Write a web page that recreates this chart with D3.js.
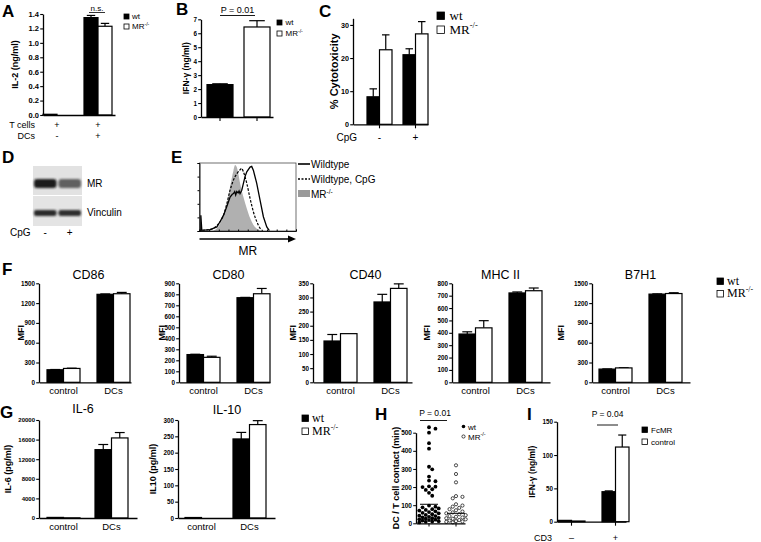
<!DOCTYPE html>
<html><head><meta charset="utf-8">
<script src="https://cdn.jsdelivr.net/npm/d3@7"></script>
<style>body{margin:0;background:#fff}svg{display:block}</style>
</head><body><script>
// ================= DATA =================
// A
const aGroups = ["T only", "T + DC"];
const aTcells = ["+", "+"];
const aDCs = ["-", "+"];
const aWt = [0.01, 1.35];
const aWtErr = [0, 0.03];
const aMr = [0.0, 1.23];
const aMrErr = [0, 0.04];
const aTicks = [0, 0.2, 0.4, 0.6, 0.8, 1.0, 1.2, 1.4];
// B
const bCats = ["wt", "MR-/-"];
const bVals = [2.32, 6.45];
const bErr = [0.06, 0.45];
const bTicks = [0, 1, 2, 3, 4, 5, 6, 7];
// C
const cCats = ["-", "+"];
const cWt = [8.3, 21.0];
const cWtErr = [2.4, 1.8];
const cMr = [22.5, 27.3];
const cMrErr = [4.5, 3.7];
const cTicks = [0, 10, 20, 30];
// D (band darkness 0..1)
const dLanes = ["-", "+"];
const dMR = [0.95, 0.62];
const dVinc = [0.88, 0.86];
// E (histogram channel / count %)
const eKoCh = [14, 18, 21.4, 24.8, 28.3, 31.7, 35.2, 36.9, 38.6, 40.3, 42.1, 45.5, 49, 52.4, 55.9, 61, 66];
const eKoCt = [0, 4, 11, 23, 40, 65, 89, 97, 94, 84, 70, 50, 33, 19, 9, 2, 0];
const eCpgCh = [3, 8, 14.5, 21.4, 24.8, 28.3, 31.7, 35.2, 38.6, 42.1, 43.8, 45.5, 49, 52.4, 55.9, 59.3, 62.8, 65.5];
const eCpgCt = [1, 1.5, 4, 14, 23, 40, 60, 75, 84, 90, 92, 87, 70, 48, 28, 14, 4, 0.5];
const eWtCh = [1.4, 1.4, 2.4, 11, 18, 21.4, 24.8, 28.3, 31.7, 34, 35.2, 36.5, 37.5, 38.6, 40, 41, 42, 43.8, 45.5, 47.2, 49, 52.4, 54.1, 55.9, 59.3, 62.8, 66.2, 69.7, 72.4];
const eWtCt = [0, 23, 1, 2, 6, 14, 23, 36, 50, 54, 55, 58, 53, 58, 56, 59, 55, 60, 70, 80, 87, 94, 95, 89, 70, 45, 21, 6, 0.5];
// F
const fCats = ["control", "DCs"];
const fTitles = ["CD86", "CD80", "CD40", "MHC II", "B7H1"];
const cd86Wt = [190, 1333], cd86WtErr = [4, 6], cd86Mr = [210, 1342], cd86MrErr = [4, 20];
const cd80Wt = [252, 769], cd80WtErr = [3, 3], cd80Mr = [227, 805], cd80MrErr = [10, 48];
const cd40Wt = [146, 284], cd40WtErr = [23, 27], cd40Mr = [172, 332], cd40MrErr = [0, 16];
const mhcWt = [390, 722], mhcWtErr = [18, 8], mhcMr = [440, 740], mhcMrErr = [58, 22];
const b7h1Wt = [200, 1336], b7h1WtErr = [3, 4], b7h1Mr = [218, 1345], b7h1MrErr = [3, 12];
const cd86Ticks = [0, 300, 600, 900, 1200, 1500];
const cd80Ticks = [0, 100, 200, 300, 400, 500, 600, 700, 800, 900];
const cd40Ticks = [0, 50, 100, 150, 200, 250, 300, 350];
const mhcTicks = [0, 100, 200, 300, 400, 500, 600, 700, 800];
const b7h1Ticks = [0, 300, 600, 900, 1200, 1500];
// G
const gCats = ["control", "DCs"];
const il6Wt = [120, 13950], il6WtErr = [0, 1050], il6Mr = [30, 16340], il6MrErr = [0, 1100];
const il6Ticks = [0, 4000, 8000, 12000, 16000, 20000];
const il10Wt = [1.5, 242], il10WtErr = [0, 20], il10Mr = [0, 286], il10MrErr = [0, 12];
const il10Ticks = [0, 50, 100, 150, 200, 250, 300];
// H
const hGroups = ["wt", "MR-/-"];
const hWt = [530, 522, 500, 442, 412, 312, 298, 258, 236, 232, 204, 202, 200, 188, 184, 168, 152,
  98, 92, 88, 82, 78, 74, 70, 66, 62, 58, 55, 50, 46, 42, 40, 36, 33, 30, 28, 25, 22, 20, 18, 15, 12, 10, 8, 5];
const hMr = [320, 272, 226, 150, 146, 138, 105, 98, 92, 85, 78, 72, 65, 60, 55, 50, 45, 40, 36, 32, 28, 25, 22, 18, 15, 12, 10, 8, 5];
const hMeans = [105, 55];
const hTicks = [0, 100, 200, 300, 400, 500];
// I
const iCats = ["\u2013", "+"];
const iFcmr = [2, 45], iFcmrErr = [0, 1.2];
const iCtrl = [1, 112], iCtrlErr = [0, 18];
const iTicks = [0, 50, 100, 150];

// ================= DRAWING =================
const SANS = '"Liberation Sans", Arial, Helvetica, sans-serif';
const SERIF = '"Liberation Serif", "Times New Roman", serif';
const svg = d3.select("body").append("svg").attr("width", 761).attr("height", 542)
  .style("font-family", SANS);

function txt(x, y, s, size, opts = {}) {
  const t = svg.append("text").attr("x", x).attr("y", y).attr("font-size", size).text(s);
  if (opts.anchor) t.attr("text-anchor", opts.anchor);
  if (opts.weight) t.attr("font-weight", opts.weight);
  if (opts.family) t.attr("font-family", opts.family);
  if (opts.rotate) t.attr("transform", `rotate(-90,${x},${y})`);
  return t;
}

function barPanel(o) {
  const g = svg.append("g");
  const y = d3.scaleLinear().domain([0, o.yMax]).range([o.yb, o.yt]);
  const nS = o.series.length, gw = nS * o.barW;
  const x = d3.scaleBand().domain(o.cats)
    .range([o.barStart, o.barStart + (o.cats.length - 1) * o.step + gw])
    .paddingInner((o.step - gw) / o.step).paddingOuter(0);
  const xs = d3.scaleBand().domain(d3.range(nS)).range([0, x.bandwidth()]);
  const bw = xs.bandwidth();
  o.series.forEach((s, si) => {
    const rows = o.cats.map((c, i) => ({ c, i, v: s.vals[i], e: s.errs ? s.errs[i] : 0 }));
    const cx = d => x(d.c) + xs(si) + bw / 2;
    const er = rows.filter(d => d.e > 0);
    const eg = g.append("g").attr("stroke", "#000").attr("stroke-width", 1.2);
    eg.selectAll("line.ev").data(er).join("line").attr("class", "ev")
      .attr("x1", cx).attr("x2", cx).attr("y1", d => y(d.v)).attr("y2", d => y(d.v + d.e));
    eg.selectAll("line.ec").data(er).join("line").attr("class", "ec")
      .attr("x1", d => cx(d) - bw * 0.3).attr("x2", d => cx(d) + bw * 0.3)
      .attr("y1", d => y(d.v + d.e)).attr("y2", d => y(d.v + d.e));
    g.append("g").selectAll("rect").data(rows).join("rect")
      .attr("x", d => x(d.c) + xs(si)).attr("y", d => y(d.v))
      .attr("width", bw).attr("height", d => Math.max(0, o.yb - y(d.v)))
      .attr("fill", d => Array.isArray(s.fill) ? s.fill[d.i] : s.fill)
      .attr("stroke", "#000").attr("stroke-width", 1.2);
  });
  const ya = g.append("g").attr("transform", `translate(${o.ax},0)`)
    .call(d3.axisLeft(y).tickValues(o.ticks).tickSize(2.8).tickSizeOuter(0).tickPadding(1.2)
      .tickFormat(o.fmt || d3.format("d")));
  ya.select(".domain").attr("stroke-width", 1.3);
  ya.selectAll(".tick line").attr("stroke-width", 1.1);
  ya.selectAll("text").attr("font-size", o.tickFs || 6.3).attr("font-weight", "bold").attr("font-family", SANS);
  const xa = g.append("g").attr("transform", `translate(0,${o.yb})`)
    .call(d3.axisBottom(d3.scaleLinear().range([o.ax, o.xEnd])).ticks(0).tickSizeOuter(0));
  xa.select(".domain").attr("stroke-width", 1.3);
  if (o.catTicks) {
    g.append("g").selectAll("line").data(o.cats).join("line")
      .attr("x1", c => x(c) + x.bandwidth() / 2).attr("x2", c => x(c) + x.bandwidth() / 2)
      .attr("y1", o.yb).attr("y2", o.yb + 4).attr("stroke", "#000").attr("stroke-width", 1.1);
  }
  if (o.catLabels) {
    o.catLabels.forEach(r => {
      g.append("g").selectAll("text").data(o.cats).join("text")
        .attr("x", c => x(c) + x.bandwidth() / 2).attr("y", r.y)
        .attr("text-anchor", "middle").attr("font-size", r.size || 9)
        .text((c, i) => r.labels[i]);
      if (r.title) txt(r.titleX, r.y, r.title, r.size || 9, { anchor: "end" });
    });
  }
  if (o.yLabel) {
    txt(o.ylx, (o.yb + o.yt) / 2, o.yLabel, o.ylSize || 9, { anchor: "middle", weight: "bold", rotate: true });
  }
  return { g, x, y, bw };
}

function legend(x, y, items, o) {
  items.forEach((it, i) => {
    const yy = y + i * o.gap;
    svg.append("rect").attr("x", x).attr("y", yy).attr("width", o.sq).attr("height", o.sq)
      .attr("fill", it.fill).attr("stroke", "#000").attr("stroke-width", 0.8);
    const t = svg.append("text").attr("x", x + o.sq + o.pad).attr("y", yy + o.sq)
      .attr("font-size", o.size).attr("font-family", o.family || SANS);
    t.append("tspan").text(it.label);
    if (it.sup) t.append("tspan").attr("dy", -o.size * 0.4).attr("font-size", o.size * 0.65).text(it.sup);
  });
}

// Panel letters
[["A", 2, 17], ["B", 176, 15], ["C", 319, 17], ["D", 2, 163], ["E", 171, 163],
 ["F", 2, 275], ["G", 0, 418], ["H", 375, 420], ["I", 527, 420]]
  .forEach(([s, x, y]) => txt(x, y, s, 17, { weight: "bold" }));

// ---------- A ----------
barPanel({
  cats: aGroups, series: [{ vals: aWt, errs: aWtErr, fill: "#000" }, { vals: aMr, errs: aMrErr, fill: "#fff" }],
  ax: 43, xEnd: 115, yb: 115, yt: 14, yMax: 1.4, ticks: aTicks, fmt: d3.format(".1f"), tickFs: 7.5,
  barStart: 43, barW: 14, step: 41, yLabel: "IL-2 (ng/ml)", ylx: 18, ylSize: 9,
  catLabels: [{ labels: aTcells, y: 128, title: "T cells", titleX: 35 }, { labels: aDCs, y: 139, title: "DCs", titleX: 35 }]
});
txt(97, 10.5, "n.s.", 8, { anchor: "middle" });
svg.append("line").attr("x1", 89).attr("x2", 105).attr("y1", 12.5).attr("y2", 12.5).attr("stroke", "#000").attr("stroke-width", 0.8);
legend(124, 14, [{ fill: "#000", label: "wt" }, { fill: "#fff", label: "MR", sup: "-/-" }], { gap: 10, sq: 5, pad: 3, size: 8 });

// ---------- B ----------
barPanel({
  cats: bCats, series: [{ vals: bVals, errs: bErr, fill: ["#000", "#fff"] }],
  ax: 201, xEnd: 273, yb: 117, yt: 19.3, yMax: 7, ticks: bTicks,
  barStart: 207, barW: 26, step: 37, catTicks: true, yLabel: "IFN-\u03b3 (ng/ml)", ylx: 189, ylSize: 8.5
});
txt(237.5, 12.5, "P = 0.01", 9, { anchor: "middle" });
svg.append("line").attr("x1", 220).attr("x2", 255).attr("y1", 15.5).attr("y2", 15.5).attr("stroke", "#000").attr("stroke-width", 0.9);
legend(277, 20, [{ fill: "#000", label: "wt" }, { fill: "#fff", label: "MR", sup: "-/-" }], { gap: 11, sq: 5, pad: 3.5, size: 8 });

// ---------- C ----------
barPanel({
  cats: cCats, series: [{ vals: cWt, errs: cWtErr, fill: "#000" }, { vals: cMr, errs: cMrErr, fill: "#fff" }],
  ax: 353, xEnd: 428, yb: 124.3, yt: 18.3, yMax: 32, ticks: cTicks, tickFs: 7.2,
  barStart: 367, barW: 12.5, step: 36, catTicks: true, yLabel: "% Cytotoxicity", ylx: 338, ylSize: 11,
  catLabels: [{ labels: cCats, y: 141, title: "CpG", titleX: 357, size: 10 }]
});
legend(437, 12, [{ fill: "#000", label: "wt" }, { fill: "#fff", label: "MR", sup: "-/-" }], { gap: 14, sq: 7.5, pad: 5, size: 13, family: SERIF });

// ---------- D (blot) ----------
const defs = svg.append("defs");
defs.append("filter").attr("id", "blur").attr("x", "-30%").attr("y", "-80%").attr("width", "160%").attr("height", "260%")
  .append("feGaussianBlur").attr("stdDeviation", 1.3);
svg.append("rect").attr("x", 33).attr("y", 166).attr("width", 49).attr("height", 29).attr("fill", "#e2e2e2");
svg.append("rect").attr("x", 33).attr("y", 196).attr("width", 49).attr("height", 30).attr("fill", "#e4e4e4");
const dx = d3.scaleBand().domain(dLanes).range([34, 81]).paddingInner(0.08);
const dShade = d3.scaleLinear().domain([0, 1]).range(["#e2e2e2", "#111"]);
svg.append("g").attr("filter", "url(#blur)").selectAll("rect").data(dLanes).join("rect")
  .attr("x", l => dx(l)).attr("y", 179).attr("width", dx.bandwidth()).attr("height", 9)
  .attr("rx", 3).attr("fill", (l, i) => dShade(dMR[i]));
svg.append("g").attr("filter", "url(#blur)").selectAll("rect").data(dLanes).join("rect")
  .attr("x", l => dx(l)).attr("y", 210).attr("width", dx.bandwidth()).attr("height", 6)
  .attr("rx", 2).attr("fill", (l, i) => dShade(dVinc[i]));
txt(87, 187, "MR", 10);
txt(87, 216, "Vinculin", 10);
txt(10, 236, "CpG", 10);
svg.append("g").selectAll("text").data(dLanes).join("text")
  .attr("x", l => dx(l) + dx.bandwidth() / 2).attr("y", 236).attr("text-anchor", "middle")
  .attr("font-size", 10).text(l => l);

// ---------- E (histogram) ----------
const ex = d3.scaleLinear().domain([0, 100]).range([199.5, 296]);
const ey = d3.scaleLinear().domain([0, 100]).range([231, 163]);
svg.append("path").datum(d3.zip(eKoCh, eKoCt))
  .attr("d", d3.area().x(d => ex(d[0])).y0(ey(0)).y1(d => ey(d[1])).curve(d3.curveMonotoneX))
  .attr("fill", "#b0b0b0");
svg.append("path").datum(d3.zip(eCpgCh, eCpgCt))
  .attr("d", d3.line().x(d => ex(d[0])).y(d => ey(d[1])).curve(d3.curveMonotoneX))
  .attr("fill", "none").attr("stroke", "#000").attr("stroke-width", 1.2).attr("stroke-dasharray", "2.5,1.5");
svg.append("path").datum(d3.zip(eWtCh, eWtCt))
  .attr("d", d3.line().x(d => ex(d[0])).y(d => ey(d[1])))
  .attr("fill", "none").attr("stroke", "#000").attr("stroke-width", 1.3);
svg.append("rect").attr("x", ex(0)).attr("y", ey(100)).attr("width", ex(100) - ex(0)).attr("height", ey(0) - ey(100))
  .attr("fill", "none").attr("stroke", "#333").attr("stroke-width", 0.7);
svg.append("g").attr("transform", `translate(${ex(0)},0)`)
  .call(d3.axisLeft(ey).ticks(5).tickSize(2).tickFormat(""))
  .call(s => s.select(".domain").attr("stroke-width", 0.9));
svg.append("g").attr("transform", `translate(0,${ey(0)})`)
  .call(d3.axisBottom(ex).ticks(10).tickSize(-1.5).tickFormat(""))
  .call(s => s.select(".domain").attr("stroke-width", 0.9));
svg.append("line").attr("x1", ex(0)).attr("x2", ex(100) - 6).attr("y1", 239).attr("y2", 239)
  .attr("stroke", "#000").attr("stroke-width", 1.6);
svg.append("path").attr("d", `M${ex(100) - 8},235.5 L${ex(100)},239 L${ex(100) - 8},242.5 Z`).attr("fill", "#000");
txt((ex(0) + ex(100)) / 2, 255, "MR", 12, { anchor: "middle" });
// E legend
svg.append("line").attr("x1", 298).attr("x2", 310).attr("y1", 164).attr("y2", 164).attr("stroke", "#000").attr("stroke-width", 1.6);
svg.append("line").attr("x1", 298).attr("x2", 310).attr("y1", 179).attr("y2", 179).attr("stroke", "#000").attr("stroke-width", 1.3).attr("stroke-dasharray", "2,1.5");
svg.append("rect").attr("x", 298).attr("y", 190).attr("width", 12).attr("height", 7).attr("fill", "#9a9a9a");
txt(311, 167.5, "Wildtype", 10);
txt(311, 182.5, "Wildtype, CpG", 10);
{ const t = txt(311, 197.5, "MR", 10); t.append("tspan").attr("dy", -4).attr("font-size", 6.5).text("-/-"); }

// ---------- F ----------
const fData = [
  [cd86Wt, cd86WtErr, cd86Mr, cd86MrErr, cd86Ticks, 1500],
  [cd80Wt, cd80WtErr, cd80Mr, cd80MrErr, cd80Ticks, 900],
  [cd40Wt, cd40WtErr, cd40Mr, cd40MrErr, cd40Ticks, 350],
  [mhcWt, mhcWtErr, mhcMr, mhcMrErr, mhcTicks, 800],
  [b7h1Wt, b7h1WtErr, b7h1Mr, b7h1MrErr, b7h1Ticks, 1500]
];
const fAx = [39, 179, 313, 452, 592];
const fEnd = [92, 91, 99, 98, 98];
const fStart = [8, 8, 11, 7, 7];
const fMfi = [21, 162, 293, 427, 561];
fData.forEach((d, k) => {
  const p = barPanel({
    cats: fCats, series: [{ vals: d[0], errs: d[1], fill: "#000" }, { vals: d[2], errs: d[3], fill: "#fff" }],
    ax: fAx[k], xEnd: fAx[k] + fEnd[k], yb: 382.3, yt: 283.3, yMax: d[5], ticks: d[4],
    barStart: fAx[k] + fStart[k], barW: 16.5, step: 50, yLabel: "MFI", ylx: fMfi[k] + 3, ylSize: 9,
    catLabels: [{ labels: fCats, y: 394, size: 9.5 }]
  });
  const cx = (p.x(fCats[0]) + p.x(fCats[1]) + p.x.bandwidth()) / 2;
  txt(cx, 279, fTitles[k], 12.5, { anchor: "middle" });
});
legend(717, 278, [{ fill: "#000", label: "wt" }, { fill: "#fff", label: "MR", sup: "-/-" }], { gap: 12.5, sq: 6.5, pad: 3.5, size: 12, family: SERIF });

// ---------- G ----------
{
  barPanel({
    cats: gCats, series: [{ vals: il6Wt, errs: il6WtErr, fill: "#000" }, { vals: il6Mr, errs: il6MrErr, fill: "#fff" }],
    ax: 39, xEnd: 137, yb: 518, yt: 420, yMax: 20000, ticks: il6Ticks, tickFs: 6,
    barStart: 47, barW: 16.5, step: 48, yLabel: "IL-6 (pg/ml)", ylx: 11, ylSize: 9,
    catLabels: [{ labels: gCats, y: 530, size: 9.5 }]
  });
  txt(83, 413, "IL-6", 12.5, { anchor: "middle" });
  barPanel({
    cats: gCats, series: [{ vals: il10Wt, errs: il10WtErr, fill: "#000" }, { vals: il10Mr, errs: il10MrErr, fill: "#fff" }],
    ax: 178, xEnd: 275, yb: 518, yt: 420, yMax: 300, ticks: il10Ticks,
    barStart: 185, barW: 16.5, step: 48, yLabel: "IL10 (pg/ml)", ylx: 156, ylSize: 9,
    catLabels: [{ labels: gCats, y: 530, size: 9.5 }]
  });
  txt(227, 414, "IL-10", 12.5, { anchor: "middle" });
  legend(302, 415, [{ fill: "#000", label: "wt" }, { fill: "#fff", label: "MR", sup: "-/-" }], { gap: 13, sq: 6.5, pad: 3.5, size: 12, family: SERIF });
}

// ---------- H (scatter) ----------
{
  const hy = d3.scaleLinear().domain([0, 500]).range([523.3, 432.7]);
  const hx = d3.scalePoint().domain(hGroups).range([429, 456]);
  const r = 1.9;
  function swarm(vals, cx) {
    const placed = [];
    const stepX = 2 * r * 0.85;
    const cands = [0, 1, -1, 2, -2, 3, -3].map(k => cx + k * stepX);
    vals.slice().sort((a, b) => b - a).forEach(v => {
      const py = hy(v);
      let best = null, bestD = -1;
      for (const px of cands) {
        const md = placed.length ? d3.min(placed, p => Math.hypot(p.x - px, p.y - py)) : Infinity;
        if (md >= 2 * r) { best = px; break; }
        if (md > bestD) { bestD = md; best = px; }
      }
      placed.push({ x: best, y: py, v });
    });
    return placed;
  }
  const gH = svg.append("g");
  gH.selectAll("circle.w").data(swarm(hWt, hx("wt"))).join("circle").attr("class", "w")
    .attr("cx", d => d.x).attr("cy", d => d.y).attr("r", r).attr("fill", "#000");
  gH.selectAll("circle.m").data(swarm(hMr, hx("MR-/-"))).join("circle").attr("class", "m")
    .attr("cx", d => d.x).attr("cy", d => d.y).attr("r", r - 0.3).attr("fill", "#fff").attr("stroke", "#000").attr("stroke-width", 0.7);
  gH.selectAll("line.mean").data(hGroups).join("line").attr("class", "mean")
    .attr("x1", g => hx(g) - 9).attr("x2", g => hx(g) + 9)
    .attr("y1", (g, i) => hy(hMeans[i])).attr("y2", (g, i) => hy(hMeans[i]))
    .attr("stroke", "#000").attr("stroke-width", 1);
  const ya = gH.append("g").attr("transform", "translate(416,0)")
    .call(d3.axisLeft(hy).tickValues(hTicks).tickSize(2.8).tickSizeOuter(0).tickPadding(1.2));
  ya.select(".domain").attr("stroke-width", 1.3);
  ya.selectAll("text").attr("font-size", 6.5).attr("font-weight", "bold").attr("font-family", SANS);
  gH.append("g").attr("transform", "translate(0,523.3)")
    .call(d3.axisBottom(d3.scaleLinear().range([416, 465])).ticks(0).tickSizeOuter(0))
    .select(".domain").attr("stroke-width", 1.3);
  gH.selectAll("line.xt").data(hGroups).join("line").attr("class", "xt")
    .attr("x1", g => hx(g)).attr("x2", g => hx(g)).attr("y1", 523.3).attr("y2", 526.5)
    .attr("stroke", "#000").attr("stroke-width", 1);
  txt(399, 478, "DC / T cell contact (min)", 9, { anchor: "middle", weight: "bold", rotate: true });
  txt(435, 416, "P = 0.01", 8.5, { anchor: "middle" });
  svg.append("line").attr("x1", 420).attr("x2", 447).attr("y1", 420.5).attr("y2", 420.5).attr("stroke", "#000").attr("stroke-width", 0.9);
  svg.append("circle").attr("cx", 463.5).attr("cy", 426.5).attr("r", 1.8).attr("fill", "#000");
  svg.append("circle").attr("cx", 463.5).attr("cy", 436.5).attr("r", 1.6).attr("fill", "#fff").attr("stroke", "#000").attr("stroke-width", 0.7);
  txt(468, 429.5, "wt", 8);
  { const t = txt(468, 439.5, "MR", 8); t.append("tspan").attr("dy", -3.2).attr("font-size", 5.5).text("-/-"); }
}

// ---------- I ----------
barPanel({
  cats: iCats, series: [{ vals: iFcmr, errs: iFcmrErr, fill: "#000" }, { vals: iCtrl, errs: iCtrlErr, fill: "#fff" }],
  ax: 557, xEnd: 626, yb: 521.7, yt: 421.7, yMax: 150, ticks: iTicks,
  barStart: 558, barW: 13.5, step: 44, catTicks: true, yLabel: "IFN-\u03b3 (ng/ml)", ylx: 535, ylSize: 8.5,
  catLabels: [{ labels: iCats, y: 541, size: 9, title: "CD3", titleX: 552 }]
});
txt(607.5, 417, "P = 0.04", 8.5, { anchor: "middle" });
svg.append("line").attr("x1", 597).attr("x2", 618).attr("y1", 425).attr("y2", 425).attr("stroke", "#000").attr("stroke-width", 0.9);
legend(642, 427, [{ fill: "#000", label: "FcMR" }, { fill: "#fff", label: "control" }], { gap: 12, sq: 5.5, pad: 3.5, size: 8 });
</script></body></html>
